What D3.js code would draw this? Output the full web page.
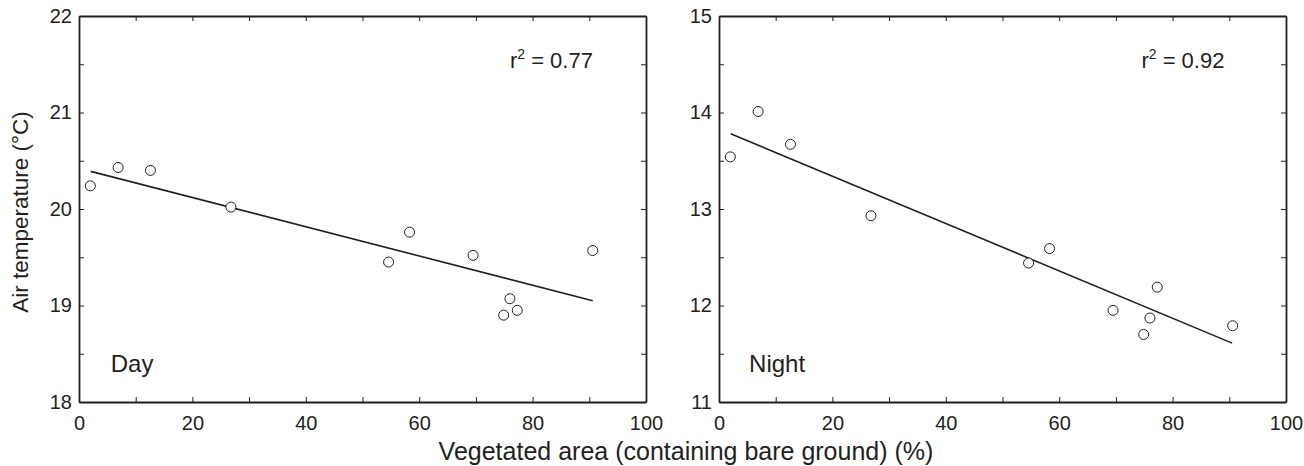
<!DOCTYPE html>
<html>
<head>
<meta charset="utf-8">
<script src="https://cdn.jsdelivr.net/npm/d3@7"></script>
<style>
  body { margin: 0; background: #fff; }
  text { font-family: "Liberation Sans", Arial, Helvetica, sans-serif; fill: #231f20; }
</style>
</head>
<body>
<div id="container"></div>
<script>
/* DATA */
// vegetated area (%) of the sites, same for both panels
const vegArea = [2, 6.9, 12.6, 26.8, 54.6, 58.3, 69.5, 74.9, 76.0, 77.3, 90.6];
const dayTemp = [20.24, 20.43, 20.40, 20.02, 19.45, 19.76, 19.52, 18.90, 19.07, 18.95, 19.57];
const nightTemp = [13.54, 14.01, 13.67, 12.93, 12.44, 12.59, 11.95, 11.70, 11.87, 12.19, 11.79];
// fitted regression lines (start / end)
const dayFit = [[2.06, 20.39], [90.6, 19.05]];
const nightFit = [[2.06, 13.78], [90.5, 11.61]];
const panelNames = ["Day", "Night"];
const rSquared = ["0.77", "0.92"];
const dayDomain = [18, 22];
const nightDomain = [11, 15];
const xTicks = d3.range(0, 101, 10);

/* CONSTANTS */
const width = 1304,
  height = 466,
  plotTop = 16,
  plotBottom = 402,
  panelW = 567,
  panelLeft = [79, 719],
  ink = "#231f20";

const svg = d3.select("#container")
  .append("svg")
  .attr("width", width)
  .attr("height", height);

const panels = [
  {name: panelNames[0], r2: rSquared[0], temp: dayTemp, fit: dayFit, domain: dayDomain, r2x: 76, nameX: 5.6},
  {name: panelNames[1], r2: rSquared[1], temp: nightTemp, fit: nightFit, domain: nightDomain, r2x: 74.5, nameX: 5.3}
];

panels.forEach((p, i) => {
  const x0 = panelLeft[i];
  const xScale = d3.scaleLinear().domain([0, 100]).range([x0, x0 + panelW]);
  const yScale = d3.scaleLinear().domain(p.domain).range([plotBottom, plotTop]);
  const yTicks = d3.range(p.domain[0], p.domain[1] + 0.01, 0.5);

  const g = svg.append("g");

  // axes - ticks point inward
  const bottomAxis = g.append("g")
    .attr("transform", `translate(0,${plotBottom})`)
    .call(d3.axisBottom(xScale).tickValues(xTicks).tickSize(-5).tickSizeOuter(0).tickPadding(14)
      .tickFormat(d => d % 20 === 0 ? d : ""));
  const topAxis = g.append("g")
    .attr("transform", `translate(0,${plotTop})`)
    .call(d3.axisTop(xScale).tickValues(xTicks).tickSize(-5).tickSizeOuter(0).tickFormat(""));
  const leftAxis = g.append("g")
    .attr("transform", `translate(${x0},0)`)
    .call(d3.axisLeft(yScale).tickValues(yTicks).tickSize(-5).tickSizeOuter(0).tickPadding(7)
      .tickFormat(d => Number.isInteger(d) ? d : ""));
  const rightAxis = g.append("g")
    .attr("transform", `translate(${x0 + panelW},0)`)
    .call(d3.axisRight(yScale).tickValues(yTicks).tickSize(-5).tickSizeOuter(0).tickFormat(""));

  [bottomAxis, topAxis, leftAxis, rightAxis].forEach(a => {
    a.attr("font-family", null).attr("font-size", null);
    a.select(".domain").attr("stroke", ink).attr("stroke-width", 1.8);
    a.selectAll(".tick line").attr("stroke", ink).attr("stroke-width", 1);
    a.selectAll(".tick text").attr("font-size", 20).attr("fill", ink);
  });

  // regression line
  g.append("line")
    .attr("x1", xScale(p.fit[0][0]))
    .attr("y1", yScale(p.fit[0][1]))
    .attr("x2", xScale(p.fit[1][0]))
    .attr("y2", yScale(p.fit[1][1]))
    .attr("stroke", ink)
    .attr("stroke-width", 1.6);

  // points
  g.selectAll("circle.site")
    .data(vegArea.map((v, j) => ({veg: v, temp: p.temp[j]})))
    .join("circle")
    .attr("class", "site")
    .attr("cx", d => xScale(d.veg))
    .attr("cy", d => yScale(d.temp))
    .attr("r", 5)
    .attr("fill", "#fff")
    .attr("stroke", ink)
    .attr("stroke-width", 1);

  // r squared
  const r2 = g.append("text")
    .attr("x", xScale(p.r2x))
    .attr("y", 68)
    .attr("font-size", 22);
  r2.append("tspan").text("r");
  r2.append("tspan").text("2").attr("font-size", 14).attr("dy", -9);
  r2.append("tspan").text(" = " + p.r2).attr("dy", 9);

  // panel name
  g.append("text")
    .attr("x", xScale(p.nameX))
    .attr("y", 372)
    .attr("font-size", 24)
    .text(p.name);
});

// axis titles
svg.append("text")
  .attr("x", 686)
  .attr("y", 460)
  .attr("text-anchor", "middle")
  .attr("font-size", 25)
  .text("Vegetated area (containing bare ground) (%)");

svg.append("text")
  .attr("transform", "translate(28,212) rotate(-90)")
  .attr("text-anchor", "middle")
  .attr("font-size", 22.5)
  .text("Air temperature (°C)");
</script>
</body>
</html>
